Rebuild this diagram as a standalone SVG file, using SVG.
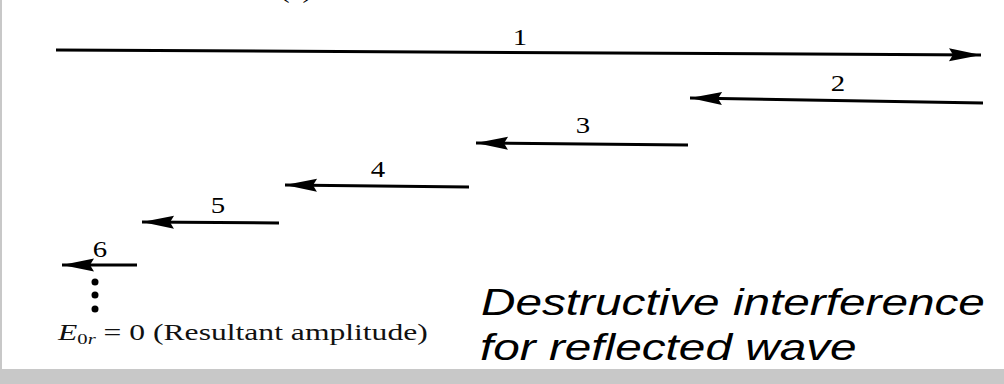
<svg xmlns="http://www.w3.org/2000/svg" width="1004" height="384" viewBox="0 0 1004 384">
<style>
.ln{stroke:#000;stroke-width:3;fill:none;marker-end:url(#ah)}
.num{font-family:"Liberation Serif","Times New Roman",serif;font-size:24px;fill:#000;text-anchor:middle}
.cap{font-family:"Liberation Sans",Arial,sans-serif;font-style:italic;font-size:37px;fill:#000}
.eq{font-family:"Liberation Serif","Times New Roman",serif;font-size:23px;fill:#111}
</style>
<defs>
<marker id="ah" markerUnits="userSpaceOnUse" markerWidth="36" markerHeight="16" viewBox="-32 -8 36 16" refX="2" refY="0" orient="auto">
<path d="M-30,-6.5 L2,0 L-30,6.5 L-26,0 Z" fill="#000"/>
</marker>
</defs>
<rect x="0" y="0" width="1004" height="384" fill="#ffffff"/>
<rect x="0" y="0" width="2" height="384" fill="#c8c8c8"/>
<rect x="0" y="369" width="1004" height="15" fill="#c8c8c8"/>
<text class="num" transform="translate(296,-2) scale(1.2,1)">(a)</text>
<g id="connectors">
<g id="arrow1"><line class="ln" x1="56" y1="50" x2="981" y2="55"/></g>
<g id="arrow2"><line class="ln" x1="983" y1="103" x2="690" y2="98"/></g>
<g id="arrow3"><line class="ln" x1="688" y1="145" x2="476" y2="143"/></g>
<g id="arrow4"><line class="ln" x1="469" y1="187" x2="285" y2="185"/></g>
<g id="arrow5"><line class="ln" x1="279" y1="223" x2="142" y2="222"/></g>
<g id="arrow6"><line class="ln" x1="137" y1="265" x2="62" y2="265"/></g>
</g>
<g id="label1"><text class="num" transform="translate(520,45) scale(1.2,1)">1</text></g>
<g id="label2"><text class="num" transform="translate(838,91) scale(1.2,1)">2</text></g>
<g id="label3"><text class="num" transform="translate(583,133) scale(1.2,1)">3</text></g>
<g id="label4"><text class="num" transform="translate(378,177) scale(1.2,1)">4</text></g>
<g id="label5"><text class="num" transform="translate(218,213) scale(1.2,1)">5</text></g>
<g id="label6"><text class="num" transform="translate(100,257) scale(1.2,1)">6</text></g>
<g id="dots">
<circle cx="95" cy="282" r="3.5" fill="#000"/>
<circle cx="95" cy="295" r="3.5" fill="#000"/>
<circle cx="95" cy="309" r="3.5" fill="#000"/>
</g>
<g id="resultant">
<text class="eq" transform="translate(58,340) scale(1.375,1)"><tspan font-style="italic">E</tspan><tspan font-size="15" dy="4">0</tspan><tspan font-size="15" font-style="italic">r</tspan><tspan dy="-4"> = 0 (Resultant amplitude)</tspan></text>
</g>
<g id="caption">
<text class="cap" transform="translate(481,315) scale(1.29,1)">Destructive interference</text>
<text class="cap" transform="translate(480,360) scale(1.29,1)">for reflected wave</text>
</g>
</svg>
